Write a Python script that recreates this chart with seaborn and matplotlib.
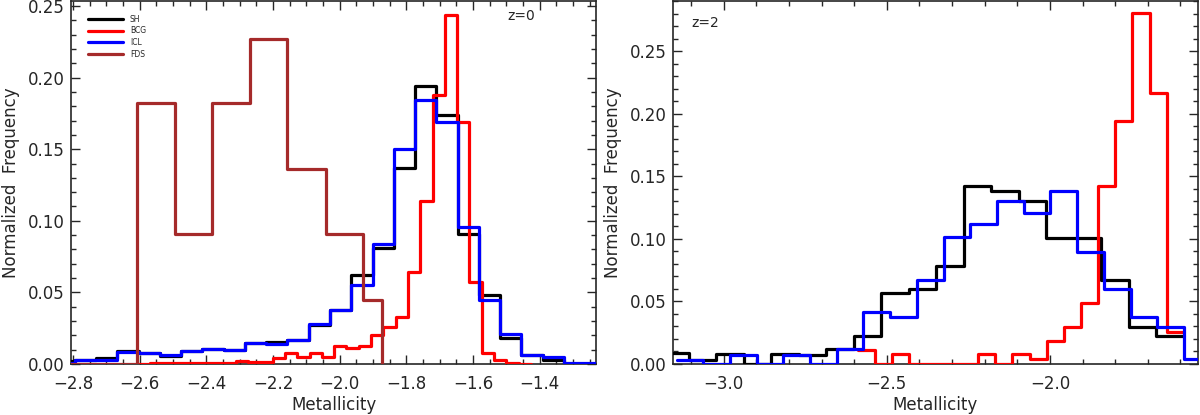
import numpy as np
import matplotlib
matplotlib.use('Agg')
import matplotlib.pyplot as plt
import seaborn as sns
from matplotlib.ticker import MultipleLocator, AutoMinorLocator

# metallicity histograms (normalized frequency per bin)
# z=0 panel
sh_z0_lo, sh_z0_w = -2.858, 0.06376
sh_z0 = [0.002, 0.003, 0.0045, 0.009, 0.0075, 0.0055, 0.009, 0.0105, 0.0097,
         0.0144, 0.0155, 0.0167, 0.027, 0.0375, 0.062, 0.081, 0.137, 0.194,
         0.174, 0.0905, 0.048, 0.0185, 0.006, 0.003, 0.0, 0.0]
icl_z0 = [0.001, 0.003, 0.003, 0.0085, 0.0075, 0.0065, 0.009, 0.0104, 0.0097,
          0.0144, 0.014, 0.0167, 0.028, 0.0375, 0.055, 0.0838, 0.150, 0.1845,
          0.169, 0.096, 0.045, 0.0208, 0.006, 0.005, 0.001, 0.001]
bcg_z0_lo, bcg_z0_w = -2.607, 0.0369
bcg_z0 = [0.0003, 0.0005, 0.0005, 0.0005, 0.0008, 0.0008, 0.001, 0.001, 0.0023,
          0.0016, 0.0016, 0.004, 0.0074, 0.0046, 0.0074, 0.0046, 0.0125, 0.011,
          0.0125, 0.020, 0.026, 0.033, 0.064, 0.114, 0.188, 0.244, 0.169, 0.057,
          0.0074, 0.0028, 0.0005, 0.0003]
fds_edges = [-2.836, -2.722, -2.609, -2.494, -2.384, -2.269, -2.157, -2.042,
             -1.929, -1.874]
fds_z0 = [0.0, 0.0, 0.182, 0.091, 0.182, 0.227, 0.136, 0.091, 0.045]

# z=2 panel
sh_z2_lo, sh_z2_w = -3.1917, 0.08436
sh_z2 = [0.0085, 0.0035, 0.0077, 0.0, 0.0077, 0.007, 0.0117, 0.0224, 0.0565,
         0.0597, 0.078, 0.1424, 0.1387, 0.1307, 0.1005, 0.1005, 0.0672, 0.0293,
         0.0224]
icl_z2_lo, icl_z2_w = -3.1451, 0.0819
icl_z2 = [0.003, 0.0, 0.0075, 0.0, 0.0075, 0.0, 0.0117, 0.0419, 0.0379, 0.0672,
          0.1013, 0.112, 0.1307, 0.1205, 0.1387, 0.0899, 0.0603, 0.0379, 0.0299,
          0.0037]
bcg_z2_lo, bcg_z2_w = -2.589, 0.05264
bcg_z2 = [0.0115, 0.0, 0.008, 0.0, 0.0, 0.0, 0.0, 0.008, 0.0, 0.008, 0.0037,
          0.0187, 0.0293, 0.0485, 0.1427, 0.1947, 0.2805, 0.217, 0.0259]

colors = {'SH': 'black', 'BCG': '#ff0000', 'ICL': '#0000ff', 'FDS': '#a52a2a'}


def regular_edges(lo, w, n):
    return lo + w * np.arange(n + 1)


def draw_step(ax, edges, heights, name, drop=False, legend=True):
    y = list(heights) + [0.0 if drop else heights[-1]]
    sns.lineplot(x=np.asarray(edges), y=np.asarray(y), ax=ax,
                 drawstyle='steps-post', color=colors[name], lw=2.3,
                 label=name if legend else None, legend=legend, zorder=3)


sns.set_style('ticks')
plt.rcParams['font.family'] = ['DejaVu Sans']

fig = plt.figure(figsize=(12, 4.15), dpi=100)
ax1 = fig.add_axes([0.0592, 0.1229, 0.4375, 0.8747])
ax2 = fig.add_axes([0.5608, 0.1229, 0.4375, 0.8747])

# left panel: z=0
draw_step(ax1, regular_edges(sh_z0_lo, sh_z0_w, len(sh_z0)), sh_z0, 'SH')
draw_step(ax1, regular_edges(bcg_z0_lo, bcg_z0_w, len(bcg_z0)), bcg_z0, 'BCG')
draw_step(ax1, regular_edges(sh_z0_lo, sh_z0_w, len(icl_z0)), icl_z0, 'ICL')
draw_step(ax1, fds_edges, fds_z0, 'FDS', drop=True)
ax1.set_xlim(-2.806, -1.231)
ax1.set_ylim(0, 0.2535)
ax1.xaxis.set_major_locator(MultipleLocator(0.2))
ax1.xaxis.set_minor_locator(AutoMinorLocator(4))
ax1.text(0.857, 0.96, 'z=0', transform=ax1.transAxes, ha='center', va='center',
         fontsize=10)
leg = ax1.legend(loc='upper left', bbox_to_anchor=(0.032, 0.962), frameon=False,
                 fontsize=5.5, handlelength=4.6, handletextpad=0.9,
                 labelspacing=0.35, borderpad=0, borderaxespad=0)
for h in leg.get_lines():
    h.set_linewidth(2.3)

# right panel: z=2
draw_step(ax2, regular_edges(sh_z2_lo, sh_z2_w, len(sh_z2)), sh_z2, 'SH', legend=False)
draw_step(ax2, regular_edges(bcg_z2_lo, bcg_z2_w, len(bcg_z2)), bcg_z2, 'BCG', legend=False)
draw_step(ax2, regular_edges(icl_z2_lo, icl_z2_w, len(icl_z2)), icl_z2, 'ICL', legend=False)
ax2.set_xlim(-3.156, -1.546)
ax2.set_ylim(0, 0.2904)
ax2.xaxis.set_major_locator(MultipleLocator(0.5))
ax2.xaxis.set_minor_locator(AutoMinorLocator(5))
ax2.text(0.061, 0.939, 'z=2', transform=ax2.transAxes, ha='center', va='center',
         fontsize=10)

for ax in (ax1, ax2):
    ax.yaxis.set_major_locator(MultipleLocator(0.05))
    ax.yaxis.set_minor_locator(AutoMinorLocator(5))
    ax.tick_params(which='both', direction='in', top=True, right=True,
                   width=1.0, labelsize=12)
    ax.tick_params(which='major', length=6.5)
    ax.tick_params(which='minor', length=3.5)
    ax.tick_params(axis='x', pad=8)
    ax.tick_params(axis='y', pad=4.5)
    for s in ax.spines.values():
        s.set_linewidth(1.2)
    ax.set_xlabel('Metallicity', fontsize=12, labelpad=2)
    ax.set_ylabel('Normalized  Frequency', fontsize=12, labelpad=6)

fig.savefig('out.png', dpi=100)
